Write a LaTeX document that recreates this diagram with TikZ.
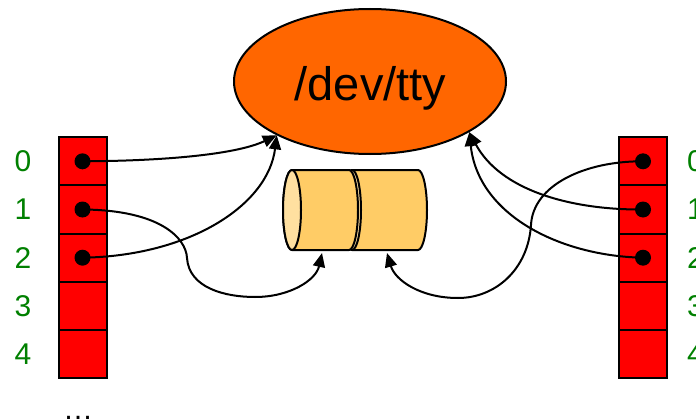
\documentclass[tikz,border=0pt]{standalone}
\usepackage{fontspec}
\setmainfont{Liberation Sans}
\usetikzlibrary{arrows.meta, shapes.geometric}

\definecolor{ttyorange}{RGB}{255,102,0}
\definecolor{fdred}{RGB}{255,0,0}
\definecolor{fdgreen}{RGB}{0,128,0}
\definecolor{pipebody}{RGB}{255,204,102}
\definecolor{pipeend}{RGB}{255,224,160}

\begin{document}
\begin{tikzpicture}[x=1pt, y=-1pt,
    fdcell/.style={draw, line width=2pt, fill=fdred, minimum width=48pt, minimum height=48.2pt, inner sep=0pt, outer sep=0pt},
    fdnum/.style={text=fdgreen, font=\fontsize{30}{30}\selectfont, inner sep=0pt},
    pipeline/.style={draw, line width=2pt, line join=round},
    link/.style={line width=2pt, -{Triangle[length=14pt, width=12pt]}}]

    \useasboundingbox (0,0) rectangle (696,420);

    % 1. Terminal (Ellipse)
    \node[ellipse, draw, line width=2pt, fill=ttyorange, minimum width=272pt, minimum height=145pt] (tty) at (370,81.5) {};
    \node[anchor=base, font=\fontsize{47}{47}\selectfont, inner sep=0pt] (ttytext) at (370.5,100) {/dev/tty};

    % 2. Pipe (zwei Zylinder, der hintere zuerst)
    \path[pipeline, fill=pipebody] (352,170) -- (418,170) arc[start angle=-90, end angle=90, x radius=9, y radius=40]
        -- (352,250) arc[start angle=90, end angle=270, x radius=9, y radius=40] -- cycle;
    \path[pipeline, fill=pipeend] (352,210) ellipse [x radius=9, y radius=40];
    \path[pipeline, fill=pipebody] (292,170) -- (349,170) arc[start angle=-90, end angle=90, x radius=9, y radius=40]
        -- (292,250) arc[start angle=90, end angle=270, x radius=9, y radius=40] -- cycle;
    \path[pipeline, fill=pipeend] (292,210) ellipse [x radius=9, y radius=40];
    \coordinate (pipeA) at (322,253);
    \coordinate (pipeB) at (387,253);

    % 3. Deskriptortabellen links und rechts
    \foreach \i in {0,...,4} {
        \node[fdcell] (l\i) at (82.5, 161.3+48.2*\i) {};
        \node[fdcell] (r\i) at (643, 161.3+48.2*\i) {};
        \node[fdnum] (ln\i) at (23, 161.3+48.2*\i) {\i};
        \node[fdnum, anchor=west] (rn\i) at (687, 161.3+48.2*\i) {\i};
    }
    \node[anchor=base, font=\fontsize{30}{30}\selectfont, inner sep=0pt] (ldots) at (78,419) {…};

    % 4. Punkte in den belegten Eintraegen
    \foreach \i in {0,1,2} {
        \fill (l\i.center) circle (8pt);
        \fill (r\i.center) circle (8pt);
    }

    % 5. Verbindungen links
    \draw[link] (l0.center) .. controls (160,161) and (235,155) .. (tty.210);
    \draw[link] (l2.center) .. controls (190,256) and (268,205) .. (tty.210);
    \draw[line width=2pt] (l1.center) .. controls (160,210) and (186,238) .. (187,258)
        .. controls (189,288) and (225,297) .. (255,297);
    \draw[link] (255,297) .. controls (290,297) and (316,280) .. (pipeA);

    % 6. Verbindungen rechts
    \draw[link] (r1.center) .. controls (570,210) and (500,190) .. (tty.-27);
    \draw[link] (r2.center) .. controls (560,256) and (478,215) .. (tty.-27);
    \draw[line width=2pt] (r0.center) .. controls (585,161) and (533,185) .. (531,225)
        .. controls (528,270) and (495,298) .. (458,298);
    \draw[link] (458,298) .. controls (420,298) and (395,280) .. (pipeB);

\end{tikzpicture}
\end{document}
